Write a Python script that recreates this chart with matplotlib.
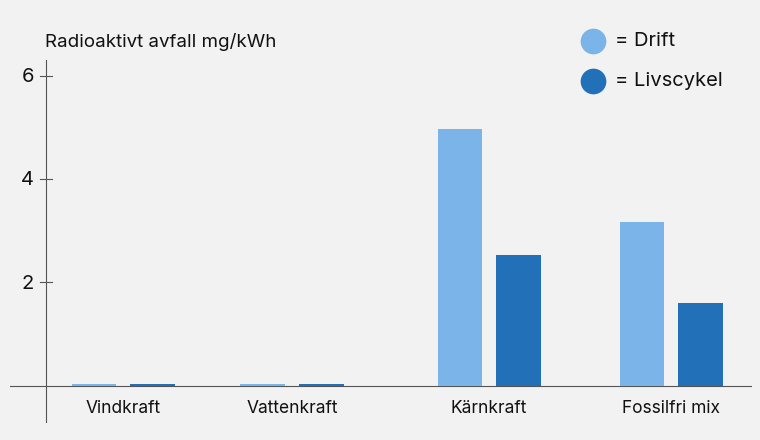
import numpy as np
import matplotlib.pyplot as plt

kategorier = ['Vindkraft', 'Vattenkraft', 'Kärnkraft', 'Fossilfri mix']
drift = [0.03, 0.03, 4.97, 3.17]
livscykel = [0.03, 0.03, 2.53, 1.6]
y_ticks = [2, 4, 6]
serier = ['= Drift', '= Livscykel']

plt.rcParams['font.family'] = ['Inter', 'DejaVu Sans']
bg = '#f2f2f2'
ljus = '#7ab4e8'
mork = '#2271b8'
grå = '#555555'

fig = plt.figure(figsize=(7.6, 4.4), dpi=100, facecolor=bg)
ax = fig.add_axes([10/760, 1-423/440, 742/760, 363/440], facecolor=bg)

pos = np.array([0, 1, 2.166, 3.243])
w = 0.266
ax.bar(pos - 0.172, drift, w, color=ljus, zorder=3)
ax.bar(pos + 0.172, livscykel, w, color=mork, zorder=3)

ax.set_xlim(-0.669, 3.722)
ax.set_ylim(-0.72, 6.3)
for s in ax.spines.values():
    s.set_visible(False)
ax.set_xticks([])
ax.set_yticks([])

# egna axellinjer som korsar varandra
x0 = -0.456
ax.axhline(0, color=grå, lw=0.8, zorder=1)
ax.axvline(x0, color=grå, lw=0.8, zorder=1)
for t in y_ticks:
    ax.plot([x0 - 0.036, x0 + 0.036], [t, t], color=grå, lw=0.8)
    ax.text(x0 - 0.07, t - 0.03, str(t), ha='right', va='center', fontsize=14.5, color='#111111')
for p, k in zip(pos, kategorier):
    ax.text(p, -0.27, k, ha='center', va='top', fontsize=12.5, color='#111111')

fig.text(45/760, 1-42/440, 'Radioaktivt avfall mg/kWh', ha='left', va='center',
         fontsize=13.5, color='#111111')

# legend med cirklar
for i, (lab, c) in enumerate(zip(serier, [ljus, mork])):
    yy = 1 - (41 + 40*i)/440
    ax.plot([593/760], [yy], marker='o', markersize=17.5, color=c, ls='',
            transform=fig.transFigure, clip_on=False)
    fig.text(615/760, yy, lab, ha='left', va='center', fontsize=14.5, color='#111111')

fig.savefig('out.png', dpi=100, facecolor=bg)
